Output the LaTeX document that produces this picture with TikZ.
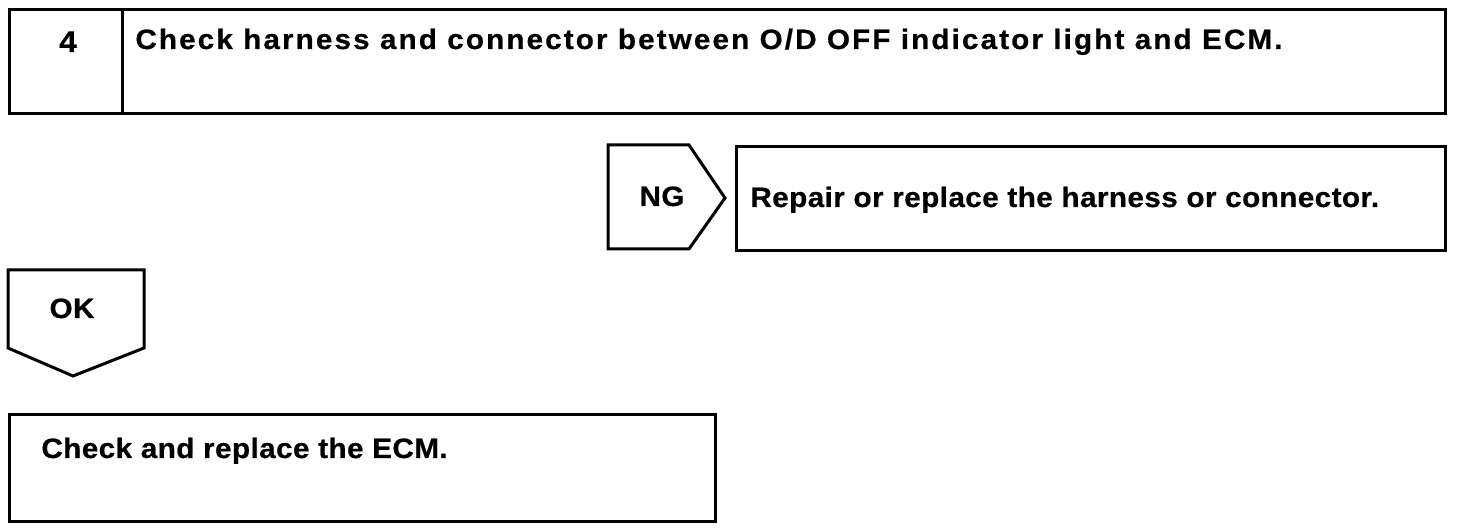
\documentclass[tikz,border=0pt]{standalone}
\usepackage{fontspec}
\setmainfont{Liberation Sans}
\newfontfamily\msgfont[FakeStretch=1.06,LetterSpace=1.5,FakeBold=0.6]{Liberation Sans Bold}
\newfontfamily\widefont[FakeStretch=1.06,LetterSpace=7.5,FakeBold=0.6]{Liberation Sans Bold}
\usetikzlibrary{positioning}
\tikzstyle{boxed}=[draw, line width=1.5pt, rectangle, inner sep=0pt, anchor=north west]
\tikzstyle{msg}=[font=\msgfont\fontsize{14}{16}\selectfont, inner sep=0pt, anchor=base west]
\tikzstyle{mark_c}=[font=\msgfont\fontsize{14}{16}\selectfont, inner sep=0pt, anchor=base]
\tikzstyle{tag}=[draw, line width=1.5pt, line join=miter]

\begin{document}
\begin{tikzpicture}[x=0.5pt,y=-0.5pt]
    \useasboundingbox (0,0) rectangle (1472,528);

\node (numcell) [boxed, minimum width=56.5pt, minimum height=52pt] at (8,8) {};
\node (chkcell) [boxed, minimum width=661.5pt, minimum height=52pt] at (121,8) {};
\node (num) [mark_c, font=\msgfont\fontsize{15}{17}\selectfont] at (68,52) {4};
\node (chk) [msg, font=\widefont\fontsize{14}{16}\selectfont] at (135,49) {Check harness and connector between O/D OFF indicator light and ECM.};

\draw [tag] (608,145) -- (689,145) -- (725,198) -- (689,249) -- (608,249) -- cycle;
\node (ng) [mark_c] at (662,206) {NG};
\node (repcell) [boxed, minimum width=354.5pt, minimum height=52pt] at (735,145) {};
\node (rep) [msg] at (750,207) {Repair or replace the harness or connector.};

\draw [tag] (8,270) -- (144,270) -- (144,348) -- (73,376) -- (8,348) -- cycle;
\node (ok) [mark_c] at (72,318) {OK};
\node (ecmcell) [boxed, minimum width=353pt, minimum height=53.5pt] at (8,413) {};
\node (ecm) [msg] at (41,458) {Check and replace the ECM.};
\end{tikzpicture}
\end{document}
